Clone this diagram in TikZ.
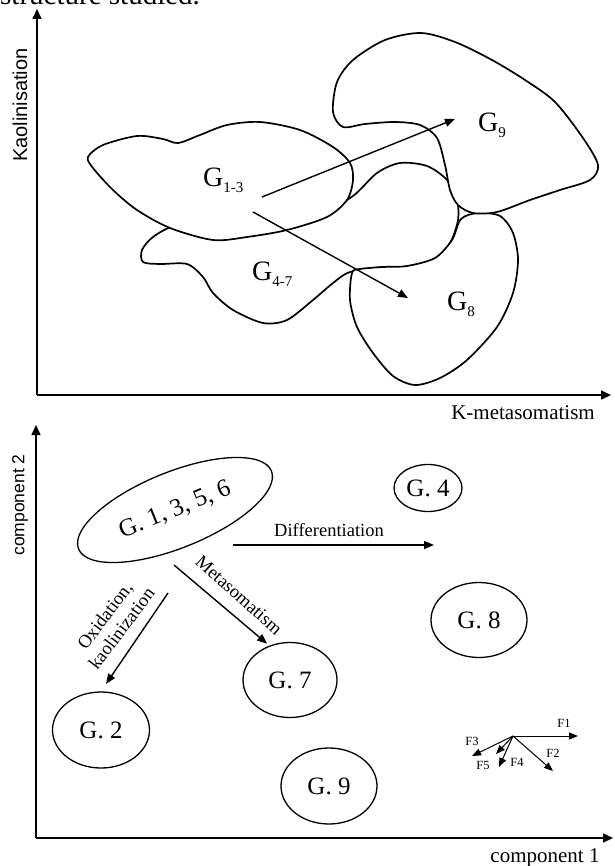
\documentclass[tikz,border=0pt]{standalone}
\usepackage{fontspec}
\setmainfont{Liberation Serif}
\setsansfont{Liberation Sans}
\usepackage{tikz}
\usetikzlibrary{arrows.meta,shapes.geometric}
\tikzstyle{region} = [line width=1.7pt, fill=white, line join=round]
\tikzstyle{axis} = [line width=1.6pt, -{Triangle[length=10pt,width=9pt]}]
\tikzstyle{arrow} = [line width=1.4pt, -{Triangle[length=10pt,width=8pt]}]
\tikzstyle{vec} = [line width=1pt, -{Triangle[length=9pt,width=7pt]}]
\tikzstyle{group} = [ellipse, draw, line width=1.3pt, inner sep=0pt, font=\fontsize{25}{25}\selectfont]
\tikzstyle{glabel} = [anchor=base west, inner sep=0pt, font=\fontsize{28}{28}\selectfont]
\tikzstyle{process} = [inner sep=0pt, font=\fontsize{18.5}{21}\selectfont]
\tikzstyle{flabel} = [inner sep=0pt, font=\fontsize{12.5}{12.5}\selectfont]
\newcommand{\gsub}[1]{G\raisebox{-6pt}{\fontsize{15}{15}\selectfont #1}}

\begin{document}
\begin{tikzpicture}[x=1pt, y=-1pt]
	\useasboundingbox (0,0) rectangle (614,866);
	\node [anchor=base west, inner sep=0pt, font=\fontsize{29}{29}\selectfont] (caption) at (0,5) {structure studied.};

	% upper diagram
	\coordinate (o1) at (37,395);
	\coordinate (y1) at (37,9);
	\coordinate (x1) at (611,395);
	\draw [axis] (o1) -- (y1);
	\draw [axis] (o1) -- (x1);
	\node [rotate=90, font=\sffamily\fontsize{20}{20}\selectfont] (kaol) at (20,105) {Kaolinisation};
	\node [font=\fontsize{21}{21}\selectfont] (kmeta) at (523,413) {K-metasomatism};

	% G4-7, G8, G9, G1-3
	\draw [region] plot [smooth cycle] coordinates {(175,226) (153,237) (142,250) (143,262) (160,264) (187,264) (203,277) (213,293) (233,310) (263,323) (287,320) (313,300) (333,283) (350,272) (383,267) (407,267) (433,260) (450,243) (458,220) (457,200) (447,180) (427,166) (400,163) (377,173) (353,196) (325,210) (260,226) (210,228)};
	\draw [region] plot [smooth cycle] coordinates {(352,273) (350,300) (357,327) (373,353) (393,376) (415,385) (440,378) (467,360) (497,327) (513,293) (518,260) (513,233) (500,216) (478,213) (461,219) (452,240) (435,258) (407,266) (383,267) (360,269)};
	\draw [region] plot [smooth cycle] coordinates {(333,112) (337,82) (353,60) (385,40) (421,33) (455,42) (492,60) (525,80) (555,102) (583,138) (598,165) (590,180) (560,190) (530,200) (497,212) (473,213) (458,205) (450,190) (445,165) (437,138) (420,125) (395,122) (365,124) (343,127)};
	\draw [region] plot [smooth cycle] coordinates {(88,157) (103,145) (137,136) (163,139) (178,143) (200,135) (227,125) (260,122) (300,130) (333,147) (350,163) (353,180) (347,200) (327,217) (287,230) (247,237) (213,240) (170,228) (137,210) (113,190) (93,168)};

	\node [glabel] (g13) at (203,187) {\gsub{1-3}};
	\node [glabel] (g47) at (252,280) {\gsub{4-7}};
	\node [glabel] (g9) at (478,132) {\gsub{9}};
	\node [glabel] (g8) at (447,310) {\gsub{8}};

	\coordinate (a1) at (262,197);
	\coordinate (a9) at (455,119);
	\coordinate (a2) at (253,212);
	\coordinate (a8) at (408,298);
	\draw [arrow] (a1) -- (a9);
	\draw [arrow] (a2) -- (a8);

	% lower diagram
	\coordinate (o2) at (36,838);
	\coordinate (y2) at (36,425);
	\coordinate (x2) at (613,838);
	\draw [axis] (o2) -- (y2);
	\draw [axis] (o2) -- (x2);
	\node [rotate=90, font=\sffamily\fontsize{17.5}{17.5}\selectfont] (comp2) at (20,505) {component 2};
	\node [font=\fontsize{21}{21}\selectfont] (comp1) at (545,858) {component 1};

	\node [group, rotate=22, minimum width=208pt, minimum height=76pt] (g1356) at (175,510) {G. 1, 3, 5, 6};
	\node [group, minimum width=68pt, minimum height=47pt] (g4) at (428,488) {G. 4};
	\node [group, minimum width=96pt, minimum height=75pt] (g8b) at (479,620) {G. 8};
	\node [group, minimum width=94pt, minimum height=75pt] (g7) at (290,680) {G. 7};
	\node [group, minimum width=97pt, minimum height=76pt] (g2) at (101,730) {G. 2};
	\node [group, minimum width=96pt, minimum height=76pt] (g9b) at (329,786) {G. 9};

	\coordinate (dif0) at (233,545);
	\coordinate (dif1) at (434,545);
	\coordinate (meta0) at (174,565);
	\coordinate (ox0) at (168,593);
	\draw [arrow] (dif0) -- (dif1);
	\draw [arrow, shorten >=3pt] (meta0) -- (g7.121);
	\draw [arrow, shorten >=9pt] (ox0) -- (g2.north);
	\node [process] (diflab) at (329,530) {Differentiation};
	\node [process, rotate=-41.7] (metalab) at (239,595) {Metasomatism};
	\node [process, rotate=53, align=center] (oxlab) at (113,622) {Oxidation,\\kaolinization};

	% loadings
	\coordinate (f0) at (513,736);
	\coordinate (f1) at (578,736);
	\coordinate (f2) at (553,771);
	\coordinate (f3) at (472,756);
	\coordinate (f4) at (499,767);
	\coordinate (f5) at (496,754);
	\draw [vec] (f0) -- (f1);
	\draw [vec] (f0) -- (f2);
	\draw [vec] (f0) -- (f3);
	\draw [vec] (f0) -- (f4);
	\draw [vec] (f0) -- (f5);
	\node [flabel] (lf1) at (564,723) {F1};
	\node [flabel] (lf2) at (553,753) {F2};
	\node [flabel] (lf3) at (472,741) {F3};
	\node [flabel] (lf4) at (517,762) {F4};
	\node [flabel] (lf5) at (483,765) {F5};
\end{tikzpicture}
\end{document}
